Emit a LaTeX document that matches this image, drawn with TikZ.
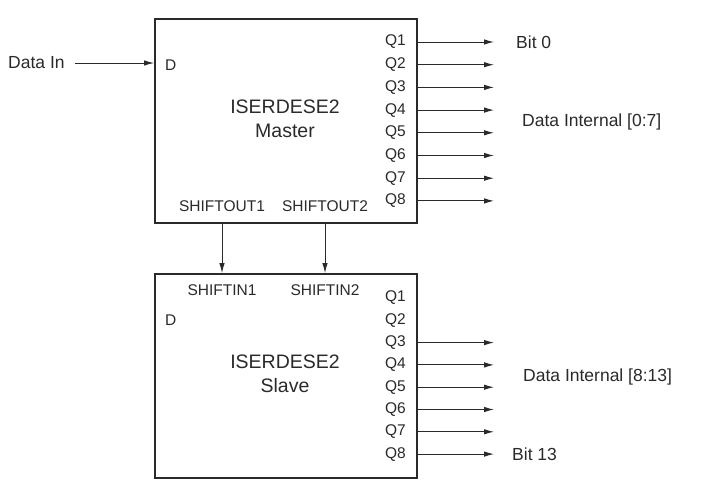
\documentclass[tikz,border=0pt]{standalone}
\usepackage{fontspec}
\setmainfont{Liberation Sans}
\usetikzlibrary{arrows.meta,positioning}
\definecolor{ink}{HTML}{2A2A2A}

\begin{document}
\begin{tikzpicture}[x=1pt,y=-1pt,
  block/.style={draw=ink,line width=1.7pt,minimum width=262pt,minimum height=204pt,inner sep=0pt},
  pin/.style={font=\fontsize{15.5}{17}\selectfont,text=ink,inner sep=0pt},
  lbl/.style={font=\fontsize{17.5}{20}\selectfont,text=ink,inner sep=0pt},
  title/.style={font=\fontsize{19.5}{24}\selectfont,text=ink,align=center,inner sep=0pt},
  wire/.style={draw=ink,line width=1pt,-{Latex[length=10pt,width=5.5pt]}}]
  \useasboundingbox (0,0) rectangle (704,485);
  % the two blocks
  \node[block] (master) at (286,121) {};
  \node[block] (slave) at (286,376) {};
  \node[title] (mtitle) at (285,119) {ISERDESE2\\Master};
  \node[title] (stitle) at (285,374) {ISERDESE2\\Slave};
  % data input
  \node[lbl,anchor=west] (datain) at (8,63) {Data In};
  \node[pin,anchor=west] (md) at (165,65) {D};
  \node[pin,anchor=west] (sd) at (165,320) {D};
  \draw[wire] ([xshift=10pt]datain.east) -- (master.west |- datain);
  % cascade between master and slave
  \node[pin] (so1) at (222,206) {SHIFTOUT1};
  \node[pin] (so2) at (325,206) {SHIFTOUT2};
  \node[pin] (si1) at (222,290) {SHIFTIN1};
  \node[pin] (si2) at (325,290) {SHIFTIN2};
  \draw[wire] (master.south -| so1) -- (slave.north -| so1);
  \draw[wire] (master.south -| so2) -- (slave.north -| so2);
  % outputs
  \foreach \i in {1,...,8} {
    \node[pin,anchor=east] (mq\i) at (406,{42+(\i-1)*22.7}) {Q\i};
    \coordinate (mo\i) at (494,{42+(\i-1)*22.7});
    \draw[wire] (master.east |- mo\i) -- (mo\i);
    \node[pin,anchor=east] (sq\i) at (406,{298+(\i-1)*22.3}) {Q\i};
    \coordinate (sout\i) at (494,{298+(\i-1)*22.3});
  }
  \foreach \i in {3,...,8}
    \draw[wire] (slave.east |- sout\i) -- (sout\i);
  \node[lbl,anchor=west] (bit0) at (516,42) {Bit 0};
  \node[lbl,anchor=west] (dlow) at (522,122) {Data Internal [0:7]};
  \node[lbl,anchor=west] (dhigh) at (523,377) {Data Internal [8:13]};
  \node[lbl,anchor=west] (bit13) at (512,454) {Bit 13};
\end{tikzpicture}
\end{document}
